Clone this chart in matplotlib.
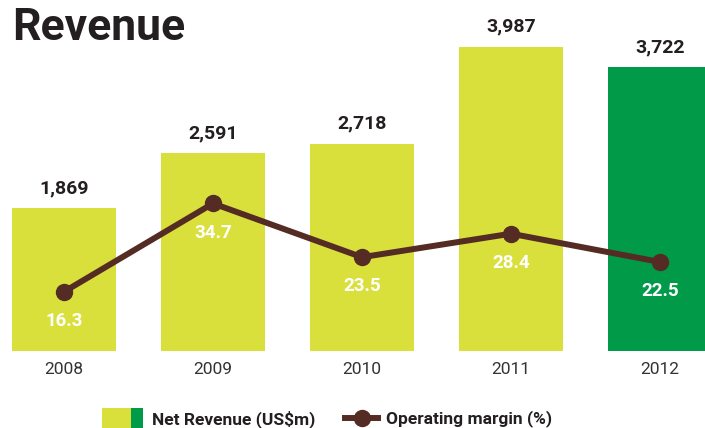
import matplotlib

matplotlib.use("Agg")
import matplotlib.pyplot as plt  # noqa: E402
from matplotlib.lines import Line2D  # noqa: E402
from matplotlib.patches import Rectangle  # noqa: E402

years = ["2008", "2009", "2010", "2011", "2012"]
net_revenue = [1869, 2591, 2718, 3987, 3722]
operating_margin = [16.3, 34.7, 23.5, 28.4, 22.5]

LIME = "#d9e03b"
GREEN = "#009a49"
BROWN = "#552c23"
DARK = "#231f20"

plt.rcParams["font.family"] = ["Roboto", "DejaVu Sans"]

fig = plt.figure(figsize=(7.05, 4.28), dpi=100)
ax = fig.add_axes([0.0, 0.18, 1.0, 0.82])
x = list(range(len(years)))
colors = [LIME] * (len(years) - 1) + [GREEN]
bars = ax.bar(x, net_revenue, width=0.70, color=colors, zorder=1)
ax.set_xlim(-0.4295, 4.302)
ax.set_ylim(0, 4603)
for rect, val in zip(bars, net_revenue):
    ax.annotate(f"{val:,}", (rect.get_x() + rect.get_width() / 2, rect.get_height()),
                xytext=(0, 8), textcoords="offset points", ha="center", va="bottom",
                fontsize=14, fontweight="bold", color=DARK)
ax.set_xticks(x)
ax.set_xticklabels(years, fontsize=12.5, color="#333333")
ax.tick_params(axis="x", length=0, pad=8)
ax.set_yticks([])
for s in ax.spines.values():
    s.set_visible(False)

ax2 = ax.twinx()
ax2.plot(x, operating_margin, color=BROWN, lw=4.3, marker="o", markersize=11.5, zorder=3)
ax2.set_ylim(3.96, 77.1)
ax2.set_yticks([])
for s in ax2.spines.values():
    s.set_visible(False)
for xi, val in zip(x, operating_margin):
    ax2.annotate(f"{val}", (xi, val), xytext=(0, -21), textcoords="offset points",
                 ha="center", va="center", fontsize=13.5, fontweight="bold", color="white")

fig.text(12 / 705, 1 - 28 / 428, "Revenue", fontsize=32, fontweight="bold", color=DARK,
         ha="left", va="center")

# legend drawn by hand at the bottom
W, H = 705, 428
fig.patches.append(Rectangle((102 / W, 0), 29 / W, 20 / H, transform=fig.transFigure,
                             facecolor=LIME, edgecolor="none"))
fig.patches.append(Rectangle((131 / W, 0), 12 / W, 20 / H, transform=fig.transFigure,
                             facecolor=GREEN, edgecolor="none"))
fig.text(152 / W, 1 - 419 / H, "Net Revenue (US$m)", fontsize=12.5, fontweight="bold",
         color=DARK, ha="left", va="center")
fig.lines.append(Line2D([345 / W, 378 / W], [1 - 418 / H, 1 - 418 / H], transform=fig.transFigure,
                        color=BROWN, lw=4.3))
fig.lines.append(Line2D([362 / W], [1 - 418 / H], transform=fig.transFigure, color=BROWN,
                        marker="o", markersize=11.5))
fig.text(386 / W, 1 - 419 / H, "Operating margin (%)", fontsize=12.5, fontweight="bold",
         color=DARK, ha="left", va="center")

fig.savefig("out.png", dpi=100)
